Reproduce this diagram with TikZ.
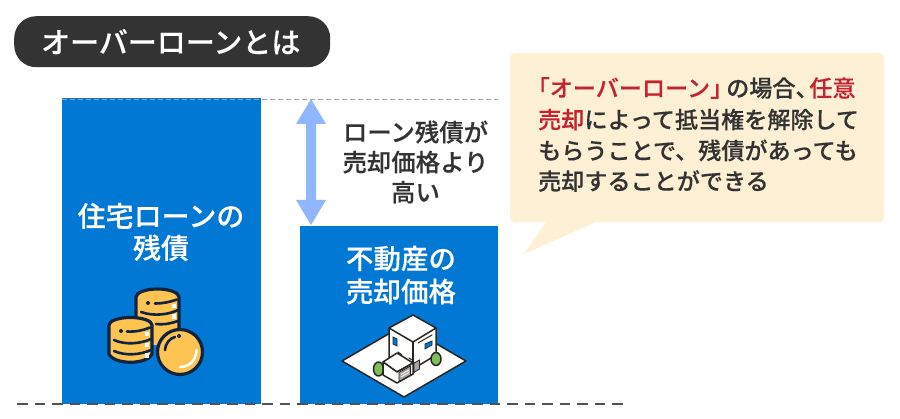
\documentclass[tikz,border=0pt]{standalone}
\usepackage{fontspec}
\setmainfont{Noto Sans CJK JP}[BoldFont={Noto Sans CJK JP Medium},BoldFeatures={FakeBold=0.25}]
\definecolor{blueb}{HTML}{0078D4}
\definecolor{inkc}{HTML}{333333}
\definecolor{arrowc}{HTML}{8FB6FF}
\definecolor{creamc}{HTML}{FDF0D5}
\definecolor{redc}{HTML}{C4242F}
\definecolor{coinc}{HTML}{FDC451}
\definecolor{navyc}{HTML}{12233F}
\definecolor{leafc}{HTML}{7CBF5A}
\definecolor{housec}{HTML}{2B2522}
\definecolor{doorc}{HTML}{A5A5A5}
\tikzset{
  bluebox/.style={fill=blueb,draw=none,inner sep=0pt,anchor=north west},
  whitelabel/.style={text=white,align=center,inner sep=0pt},
  inklabel/.style={text=inkc,font=\fontsize{23.1}{31}\selectfont\bfseries,inner sep=0pt},
  coinline/.style={draw=navyc,line width=3.2pt,line cap=round,line join=round},
  thinline/.style={draw=navyc,line width=2.6pt,line cap=round},
  coinshine/.style={draw=white,line width=2.6pt,line cap=round},
  houseline/.style={draw=housec,line width=1.5pt,line join=round,line cap=round},
}
\begin{document}
\begin{tikzpicture}[x=1pt,y=-1pt]
\useasboundingbox (0,0) rectangle (900,419);
\fill[white] (0,0) rectangle (900,419);
% title
\node[fill=inkc,rounded corners=22pt,minimum width=316pt,minimum height=51pt,inner sep=0pt,anchor=north west,text=white,font=\fontsize{29}{30}\selectfont\bfseries] (title) at (14,16) {\kern-3pt オーバーローンとは};
% boxes
\node[bluebox,minimum width=199pt,minimum height=306pt] (debt) at (62,98) {};
\node[bluebox,minimum width=198pt,minimum height=178pt] (price) at (300,226) {};
\node[whitelabel,font=\fontsize{28}{32}\selectfont\bfseries] (debtlabel) at (161,232) {住宅ローンの\\残債};
\node[whitelabel,font=\fontsize{27.5}{33}\selectfont\bfseries] (pricelabel) at (401,275) {不動産の\\売却価格};
% guides
\coordinate (topL) at (62,99.5);
\coordinate (topR) at (498,99.5);
\coordinate (baseL) at (17,404);
\coordinate (baseR) at (624,404);
\coordinate (arrT) at (311,99);
\coordinate (arrB) at (311,225);
\draw[gray!75,line width=.9pt,dash pattern=on 5pt off 3pt] (topL) -- (topR);
\draw[draw=inkc!85,line width=2.4pt,dash pattern=on 10.5pt off 7pt] (baseL) -- (baseR);
% double arrow
\fill[arrowc] (arrT) -- ++(15,25) -- ++(-10,0) -- ++(0,76) -- ++(10,0) -- (arrB) -- ++(-15,-25) -- ++(10,0) -- ++(0,-76) -- ++(-10,0) -- cycle;
\node[inklabel,align=center,font=\fontsize{24.4}{30}\selectfont\bfseries] (gaplabel) at (415.5,162) {ローン残債が\\売却価格より\\高い};
% callout
\fill[creamc,rounded corners=5pt] (510,53) -- (884,53) -- (884,222.5) -- (510,222.5) -- cycle;
\fill[creamc] (546,222) -- (524,254) -- (596,222) -- cycle;
\node[inklabel,anchor=west] (line1) at (538,88) {\textcolor{redc}{\kern-.5em 「オーバーローン」}\kern-.3em の場合、\kern-.4em\textcolor{redc}{任意}};
\node[inklabel,anchor=west] (line2) at (538,119.5) {\textcolor{redc}{売却}によって抵当権を解除して};
\node[inklabel,anchor=west] (line3) at (538,150.5) {もらうことで、残債があっても};
\node[inklabel,anchor=west] (line4) at (538,181) {売却することができる};
% coins
\begin{scope}
  % back stack
  \fill[coinc] (136,297) arc[start angle=180,end angle=360,x radius=21.5,y radius=8] -- (179,345) -- (136,345) -- cycle;
  \draw[coinline] (136,318) -- (136,297) arc[start angle=180,end angle=360,x radius=21.5,y radius=8] -- (179,330);
  \fill[navyc] (148,303) circle (2pt);
  \draw[thinline] (155,303.5) .. controls (163,303.5) and (170,302) .. (177,299.5);
  \draw[thinline] (141,312) .. controls (155,317) and (170,314) .. (178,310);
  \draw[thinline] (156,324) .. controls (165,325) and (172,323) .. (178,321);
  \fill[white] (172,304) rectangle (176,308);
  \fill[white] (172,314.5) rectangle (176,319);
  % front stack
  \fill[coinc] (109,325) arc[start angle=180,end angle=360,x radius=21.5,y radius=7.5] -- (152,354) .. controls (147,365) and (114,365) .. (109,354) -- cycle;
  \draw[coinline] (109,325) arc[start angle=180,end angle=360,x radius=21.5,y radius=7.5] -- (152,354) .. controls (147,365) and (114,365) .. (109,354) -- cycle;
  \fill[navyc] (121,331) circle (2pt);
  \draw[thinline] (127,331.5) .. controls (135,332) and (143,330.5) .. (150,327.5);
  \draw[thinline] (114,340) .. controls (125,345) and (140,344) .. (151,339);
  \draw[thinline] (114,351) .. controls (125,356) and (140,355) .. (151,350);
  \fill[white] (145,332.5) rectangle (149,336);
  \fill[white] (145,343.5) rectangle (149,347);
  \fill[white] (145,353.5) rectangle (149,358);
  % big coin
  \draw[coinline,fill=coinc] (180,352) circle (22.5);
  \draw[thinline] (165,350) .. controls (165,344) and (170,338) .. (175,337);
  \fill[navyc] (179,336) circle (2pt);
  \draw[coinshine] (196.5,350) .. controls (196,361) and (189,367) .. (180,367);
\end{scope}
% house
\begin{scope}
  \draw[houseline,fill=white] (342,361) -- (404,325) -- (466,361) -- (404,397) -- cycle;
  \draw[houseline,fill=leafc] (378.5,369) ellipse (5pt and 7pt);
  \draw[houseline,fill=white] (389,328) -- (413,315) -- (436,328) -- (436,355) -- (413,369) -- (389,357) -- cycle;
  \draw[houseline] (389,328) -- (413,342) -- (436,328);
  \draw[houseline] (413,342) -- (413,374);
  \draw[houseline,line width=1pt] (418,343) -- (432,335);
  \draw[housec,fill=blueb,line width=.8pt] (393,337) -- (397,339) -- (397,346) -- (393,344) -- cycle;
  \draw[housec,fill=blueb,line width=.8pt] (425,344) -- (432,341) -- (432,345) -- (425,349) -- cycle;
  \draw[houseline,line width=1pt] (398,352) -- (402,355) (409,358) -- (412,360);
  \draw[housec,fill=doorc,line width=.8pt] (414,363) -- (419.5,360) -- (419.5,369) -- (414,372.5) -- cycle;
  \draw[houseline,fill=leafc] (436,359) ellipse (5pt and 6.5pt);
  \draw[houseline,fill=white] (383,362) -- (397,353) -- (413,363) -- (397,372) -- cycle;
  \draw[houseline,fill=white] (383,362) -- (397,372) -- (413,363) -- (413,374) -- (397,383) -- (383,375) -- cycle;
  \draw[housec,fill=doorc,line width=.8pt] (399,372.5) -- (410.5,366) -- (410.5,375) -- (399,381.5) -- cycle;
  \draw[white,line width=.8pt] (401,374.5) -- (409,370) (401,377) -- (409,372.5);
\end{scope}
\end{tikzpicture}
\end{document}
